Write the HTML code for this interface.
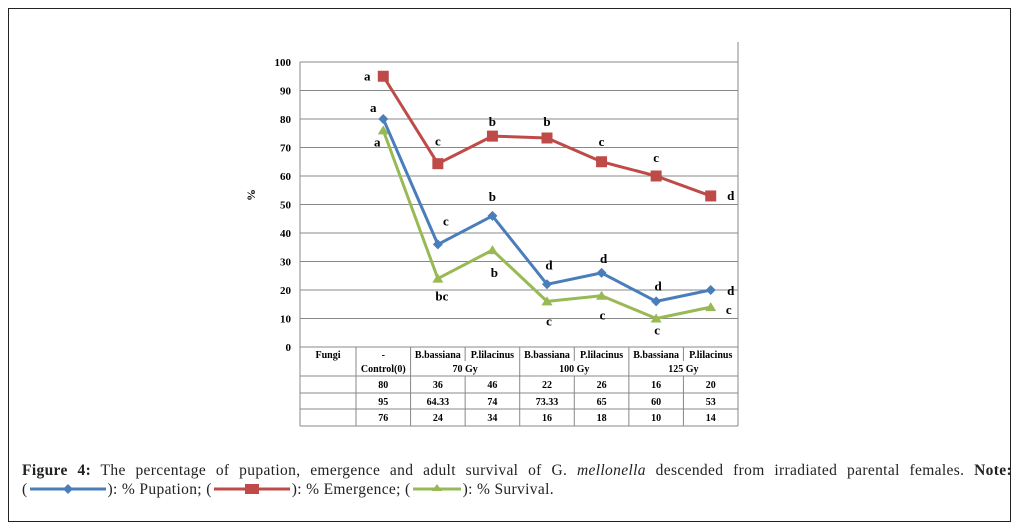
<!DOCTYPE html>
<html><head><meta charset="utf-8"><style>
body{margin:0;background:#fff;width:1020px;height:532px;overflow:hidden;font-family:"Liberation Serif",serif}
#frame{position:absolute;left:8px;top:8px;width:1003px;height:514px;border:1px solid #222;box-sizing:border-box}
#cap{position:absolute;left:22px;top:461px;width:990px;font-size:15.5px;letter-spacing:0.35px;line-height:19px;color:#222}
#cap .l1{text-align:justify;text-align-last:justify}
</style></head><body>
<div id="frame"></div>
<svg id="chart" width="1020" height="532" style="position:absolute;left:0;top:0"></svg>
<div id="cap"><div class="l1"><b>Figure 4:</b> The percentage of pupation, emergence and adult survival of G. <i>mellonella</i> descended from irradiated parental females. <b>Note:</b></div><div>(<svg width="80" height="12" style="vertical-align:-1px"><line x1="2" y1="6" x2="78" y2="6" stroke="#4a7ebb" stroke-width="3"/><path d="M40 1 L45 6 L40 11 L35 6Z" fill="#4a7ebb"/></svg>): % Pupation; (<svg width="80" height="12" style="vertical-align:-1px"><line x1="2" y1="6" x2="78" y2="6" stroke="#be4b48" stroke-width="3"/><rect x="33" y="1" width="14" height="10" fill="#be4b48"/></svg>): % Emergence; (<svg width="52" height="12" style="vertical-align:-1px"><line x1="2" y1="6" x2="50" y2="6" stroke="#98b954" stroke-width="3"/><path d="M26 1 L31 8 L21 8Z" fill="#98b954"/></svg>): % Survival.</div></div>
<script>
const categories=["Control(0)","B.bassiana","P.lilacinus","B.bassiana","P.lilacinus","B.bassiana","P.lilacinus"];
const pupation=[80,36,46,22,26,16,20];
const emergence=[95,64.33,74,73.33,65,60,53];
const survival=[76,24,34,16,18,10,14];
const pupLabels=["a","c","b","d","d","d","d"];
const emeLabels=["a","c","b","b","c","c","d"];
const surLabels=["a","bc","b","c","c","c","c"];
const yTicks=[0,10,20,30,40,50,60,70,80,90,100];
const ns="http://www.w3.org/2000/svg";
const svg=document.getElementById('chart');
const L=300,R=738,T=62,B=347,firstCol=356;
const colW=(R-firstCol)/categories.length;
function x(i){return firstCol+colW*(i+0.5);}
function y(v){return B-(v/100)*(B-T);}
function el(tag,attrs,parent){const e=document.createElementNS(ns,tag);for(const k in attrs)e.setAttribute(k,attrs[k]);(parent||svg).appendChild(e);return e;}
function txt(s,X,Y,opts){const t=el('text',Object.assign({x:X,y:Y,'font-family':'Liberation Serif, serif','font-size':11,'font-weight':'bold','text-anchor':'middle',fill:'#000'},opts||{}));t.textContent=s;return t;}
yTicks.forEach(v=>{
  const g=el('line',{x1:L,x2:R,y1:y(v),y2:y(v),stroke:'#888','stroke-width':1});
  
  
  const t=txt(String(v),291,y(v)+4,{'text-anchor':'end'});
  
  
});
el('line',{x1:L,x2:L,y1:T,y2:B,stroke:'#888'});
el('line',{x1:R,x2:R,y1:T-20,y2:426,stroke:'#888'});
const yt=txt('%',255,195,{transform:'rotate(-90 255 195)','font-size':12});


const rows=[347,376,393,409,426];
[376,393,409,426].forEach(r=>el('line',{x1:L,x2:R,y1:r,y2:r,stroke:'#888'}));
el('line',{x1:L,x2:L,y1:B,y2:426,stroke:'#888'});
el('line',{x1:firstCol,x2:firstCol,y1:B,y2:426,stroke:'#888'});
for(let i=1;i<=categories.length;i++){
  const xx=firstCol+colW*i;
  if(i===2||i===4||i===6){el('line',{x1:xx,x2:xx,y1:B,y2:361,stroke:'#888'});el('line',{x1:xx,x2:xx,y1:376,y2:426,stroke:'#888'});}
  else el('line',{x1:xx,x2:xx,y1:B,y2:426,stroke:'#888'});
}
txt('Fungi',L+28,358,{'font-size':10});
categories.forEach((c,i)=>{
  const t=txt(i===0?'-':c,x(i),358,{'font-size':10});
  
  
});
txt('Control(0)',x(0),372,{'font-size':10});
['70 Gy','100 Gy','125 Gy'].forEach((g,k)=>{const t=txt(g,(x(1+2*k)+x(2+2*k))/2,372,{'font-size':10});
  
  });
[pupation,emergence,survival].forEach((s,r)=>s.forEach((v,i)=>{
  const t=txt(String(v),x(i),rows[r+1]+12,{'font-size':10});
  
  
}));
const series=[
 {d:emergence,c:'#be4b48',m:'sq',lab:emeLabels,off:[[-16,0],[0,-22],[0,-14],[0,-16],[0,-20],[0,-18],[20,0]],name:'emergence'},
 {d:pupation,c:'#4a7ebb',m:'di',lab:pupLabels,off:[[-10,-11],[8,-23],[0,-19],[2,-19],[2,-14],[2,-15],[20,1]],name:'pupation'},
 {d:survival,c:'#98b954',m:'tr',lab:surLabels,off:[[-6,12],[4,18],[2,23],[2,20],[1,20],[1,12],[18,3]],name:'survival'}];
series.forEach(s=>{
  const p=el('polyline',{points:s.d.map((v,i)=>x(i)+','+y(v)).join(' '),fill:'none',stroke:s.c,'stroke-width':3,'stroke-linejoin':'round'});
  
  
  s.d.forEach((v,i)=>{
    const X=x(i),Y=y(v);let m;
    if(s.m==='sq') m=el('rect',{x:X-5.5,y:Y-5.5,width:11,height:11,fill:s.c});
    else if(s.m==='di') m=el('path',{d:`M${X} ${Y-5}L${X+5} ${Y}L${X} ${Y+5}L${X-5} ${Y}Z`,fill:s.c});
    else m=el('path',{d:`M${X} ${Y-5}L${X+5.5} ${Y+4}L${X-5.5} ${Y+4}Z`,fill:s.c});
    
    
    const t=txt(s.lab[i],X+s.off[i][0],Y+s.off[i][1]+4,{'font-size':13});
    
    
  });
});
</script>
</body></html>
